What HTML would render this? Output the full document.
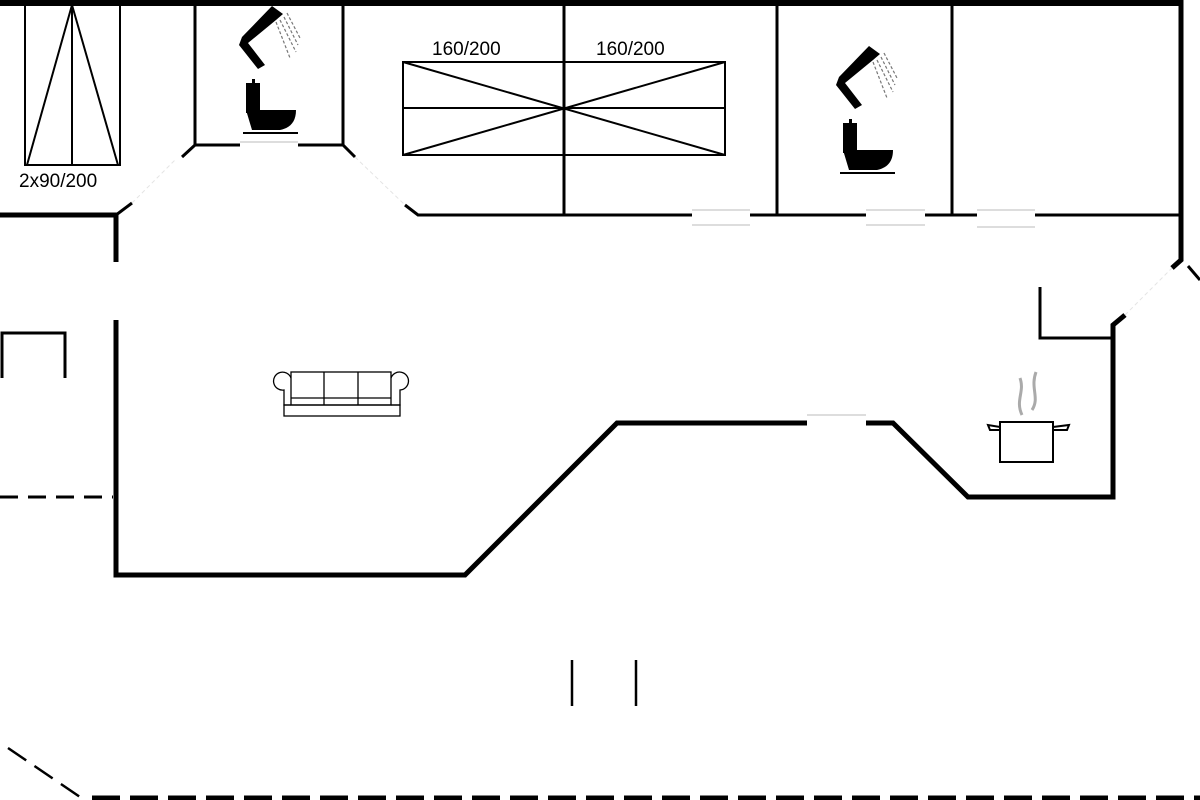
<!DOCTYPE html>
<html><head><meta charset="utf-8"><style>html,body{margin:0;padding:0;background:#fff;}svg{display:block}</style></head>
<body>
<svg width="1200" height="800" viewBox="0 0 1200 800" xmlns="http://www.w3.org/2000/svg" font-family="Liberation Sans, sans-serif">
<g stroke="#000" fill="none" stroke-linecap="butt">
<line x1="0" y1="3" x2="1183" y2="3" stroke-width="6"/>
<polyline points="1181,0 1181,260 1172,268" stroke-width="5"/>
<line x1="1188" y1="266" x2="1200" y2="280" stroke-width="3"/>
<polyline points="0,215 116,215 116,262" stroke-width="5"/>
<line x1="116" y1="215" x2="132" y2="203" stroke-width="3"/>
<polyline points="116,320 116,575 465,575 617,423 807,423" stroke-width="5"/>
<polyline points="866,423 893,423 968,497 1113,497 1113,325 1125,315" stroke-width="5"/>
<g stroke-width="3">
<line x1="195" y1="3" x2="195" y2="145"/>
<line x1="343" y1="3" x2="343" y2="145"/>
<polyline points="182,157 195,145 240,145"/>
<polyline points="298,145 343,145 355,157"/>
<polyline points="405,205 418,215 692,215"/>
<line x1="750" y1="215" x2="866" y2="215"/>
<line x1="925" y1="215" x2="977" y2="215"/>
<line x1="1035" y1="215" x2="1181" y2="215"/>
<line x1="564" y1="3" x2="564" y2="215"/>
<line x1="777" y1="3" x2="777" y2="215"/>
<line x1="952" y1="3" x2="952" y2="215"/>
<polyline points="1040,287 1040,338 1113,338"/>
<polyline points="2,378 2,333 65,333 65,378"/>
<line x1="572" y1="660" x2="572" y2="706" stroke-width="2.5"/>
<line x1="636" y1="660" x2="636" y2="706" stroke-width="2.5"/>
</g>
<line x1="0" y1="497" x2="113" y2="497" stroke-width="3" stroke-dasharray="18,10"/>
<line x1="8" y1="748" x2="80" y2="797" stroke-width="2.5" stroke-dasharray="22,10"/>
<line x1="92" y1="798" x2="1200" y2="798" stroke-width="5" stroke-dasharray="28,10"/>
<g stroke="#bbb" stroke-width="1">
<line x1="692" y1="210" x2="750" y2="210"/><line x1="692" y1="225" x2="750" y2="225"/>
<line x1="866" y1="210" x2="925" y2="210"/><line x1="866" y1="225" x2="925" y2="225"/>
<line x1="977" y1="210" x2="1035" y2="210"/><line x1="977" y1="227" x2="1035" y2="227"/>
<line x1="807" y1="415" x2="866" y2="415"/>
<line x1="240" y1="142" x2="298" y2="142"/>
</g>
<g stroke="#e4e4e4" stroke-width="1">
<line x1="355" y1="157" x2="405" y2="205" stroke-dasharray="4,3"/>
<line x1="132" y1="203" x2="175" y2="160" stroke-dasharray="4,3"/>
<line x1="1125" y1="315" x2="1172" y2="268" stroke-dasharray="4,3"/>
</g>
<g stroke-width="2">
<rect x="25" y="5" width="95" height="160"/>
<line x1="72" y1="5" x2="72" y2="165"/>
<polyline points="27,165 72,5 118,165"/>
<rect x="403" y="62" width="322" height="93"/>
<line x1="403" y1="108" x2="725" y2="108"/>
<line x1="403" y1="62" x2="725" y2="155"/>
<line x1="403" y1="155" x2="725" y2="62"/>
</g>
<g stroke-width="1.3">
<rect x="291" y="372" width="100" height="33"/>
<line x1="324" y1="372" x2="324" y2="405"/><line x1="358" y1="372" x2="358" y2="405"/>
<line x1="291" y1="398" x2="391" y2="398"/>
<path d="M291,405 L284,405 L284,390 A9,9 0 1 1 291,378"/>
<path d="M391,405 L400,405 L400,390 A9,9 0 1 0 391,378"/>
<rect x="284" y="405" width="116" height="11"/>
</g>
<g stroke-width="2">
<rect x="1000" y="422" width="53" height="40"/>
<path d="M1000,430 L990,430 L988,425 L1000,427"/>
<path d="M1053,430 L1067,430 L1069,425 L1053,427"/>
</g>
<g stroke="#aaa" stroke-width="3"><path d="M1022,415 C1015,400 1025,392 1020,378"/><path d="M1032,410 C1040,398 1030,388 1036,372"/></g>
</g>
<g id="bath">
<path d="M283,14 L272,6 L242,37 L239,45 L258,69 L265,65 L248,43 L276,20 Z" fill="#000"/>
<g stroke="#777" stroke-width="1.2" stroke-dasharray="3,2"><line x1="280" y1="20" x2="296" y2="52"/><line x1="284" y1="17" x2="298" y2="45"/><line x1="276" y1="22" x2="290" y2="58"/><line x1="287" y1="13" x2="300" y2="38"/></g>
<rect x="252" y="79" width="3" height="5" fill="#000"/>
<rect x="246" y="83" width="14" height="30" fill="#000"/>
<path d="M246,110 L296,110 C296,122 290,128 280,130 L252,130 Z" fill="#000"/>
<rect x="243" y="132" width="55" height="2" fill="#000"/>
</g>
<use href="#bath" transform="translate(597,40)"/>
<g font-size="19" fill="#000">
<text x="19" y="187">2x90/200</text>
<text x="432" y="55">160/200</text>
<text x="596" y="55">160/200</text>
</g>
</svg>
</body></html>
